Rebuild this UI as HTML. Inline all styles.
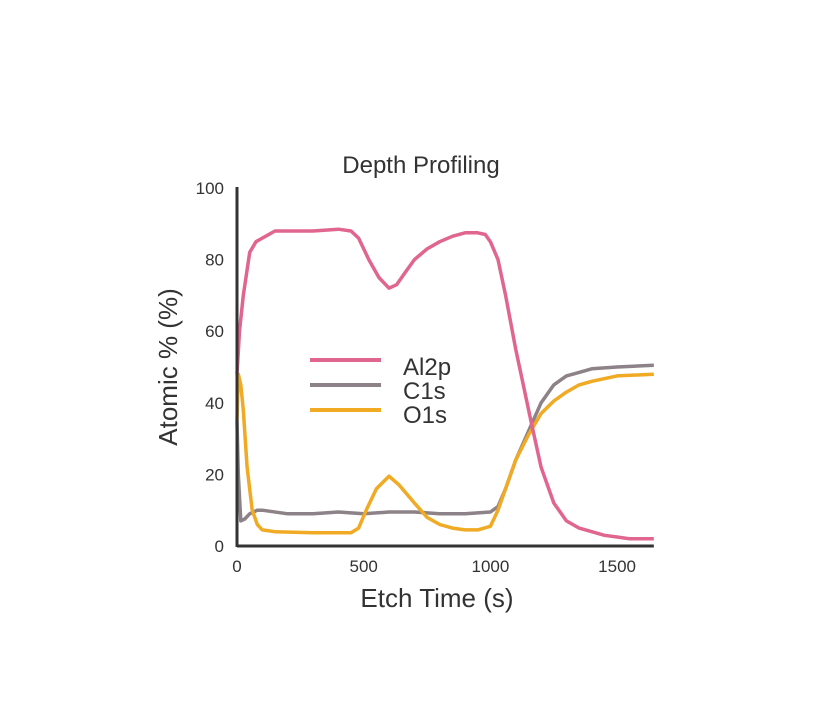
<!DOCTYPE html>
<html><head><meta charset="utf-8"><style>
body{margin:0;background:#fff;}
text{font-family:"Liberation Sans",sans-serif;fill:#333;}
</style></head><body>
<svg width="814" height="713">
<text x="421" y="173" font-size="24" text-anchor="middle">Depth Profiling</text>
<g id="series"></g>
<g id="axes"></g>
<text x="437" y="607" font-size="26" text-anchor="middle">Etch Time (s)</text>
<text transform="translate(177,367) rotate(-90)" font-size="26" text-anchor="middle">Atomic % (%)</text>
<g>
<line x1="310" y1="360" x2="381" y2="360" stroke="#e0658f" stroke-width="4"/>
<line x1="310" y1="385" x2="381" y2="385" stroke="#8c8287" stroke-width="4"/>
<line x1="310" y1="410" x2="381" y2="410" stroke="#f0aa23" stroke-width="4"/>
<text x="403" y="375" font-size="24">Al2p</text>
<text x="403" y="399" font-size="24">C1s</text>
<text x="403" y="423" font-size="24">O1s</text>
</g>
</svg>
<script>
const timeAl=[0,10,25,50,75,100,150,200,300,400,450,480,520,560,600,630,660,700,750,800,850,900,950,980,1000,1030,1060,1100,1130,1160,1200,1250,1300,1350,1400,1450,1500,1550,1600,1645];
const al2p=[48,60,70,82,85,86,88,88,88,88.5,88,86,80,75,72,73,76,80,83,85,86.5,87.5,87.5,87,85,80,70,55,45,35,22,12,7,5,4,3,2.5,2,2,2];
const timeC=[0,5,15,30,50,80,100,200,300,400,500,600,700,800,900,1000,1030,1060,1100,1150,1200,1250,1300,1350,1400,1500,1645];
const c1s=[35,20,7,7.5,9,10,10,9,9,9.5,9,9.5,9.5,9,9,9.5,11,16,24,32,40,45,47.5,48.5,49.5,50,50.5];
const timeO=[0,5,15,25,40,60,80,100,150,300,450,480,510,550,600,640,700,750,800,850,900,950,1000,1030,1060,1100,1150,1200,1250,1300,1350,1400,1500,1645];
const o1s=[35,48,45,38,22,10,6,4.5,4,3.7,3.7,5,10,16,19.5,17,12,8,6,5,4.5,4.5,5.5,10,16,24,31,37,40.5,43,45,46,47.5,48];
const xTicks=[0,500,1000,1500];
const yTicks=[0,20,40,60,80,100];
const X0=237,XS=126.7/500,Y0=546,YS=3.58;
const xs=v=>X0+v*XS, ys=v=>Y0-v*YS;
const NS="http://www.w3.org/2000/svg";
const sg=document.getElementById('series'), ag=document.getElementById('axes');
function path(t,v,col,name){
  const p=document.createElementNS(NS,'path');
  p.setAttribute('d',t.map((x,i)=>(i?'L':'M')+xs(x).toFixed(1)+','+ys(v[i]).toFixed(1)).join(''));
  p.setAttribute('fill','none');p.setAttribute('stroke',col);p.setAttribute('stroke-width','3.5');p.setAttribute('stroke-linejoin','round');
  
  
  sg.appendChild(p);
}
path(timeC,c1s,'#8c8287','series-c1s');
path(timeO,o1s,'#f0aa23','series-o1s');
path(timeAl,al2p,'#e0658f','series-al2p');
function ln(x1,y1,x2,y2,w,name){
  const l=document.createElementNS(NS,'line');
  l.setAttribute('x1',x1);l.setAttribute('y1',y1);l.setAttribute('x2',x2);l.setAttribute('y2',y2);
  l.setAttribute('stroke','#333');l.setAttribute('stroke-width',w);
  
  
  ag.appendChild(l);
}
ln(X0,ys(100)-1,X0,Y0+1,3,'y-axis-line');
ln(X0,Y0,xs(1645),Y0,3,'x-axis-line');
xTicks.forEach(v=>{
  const t=document.createElementNS(NS,'text');
  t.setAttribute('x',xs(v));t.setAttribute('y',572);t.setAttribute('font-size','17');t.setAttribute('text-anchor','middle');
  t.textContent=v;
  
  
  ag.appendChild(t);
});
yTicks.forEach(v=>{
  const t=document.createElementNS(NS,'text');
  t.setAttribute('x',224);t.setAttribute('y',ys(v)+6);t.setAttribute('font-size','17');t.setAttribute('text-anchor','end');
  t.textContent=v;
  
  
  ag.appendChild(t);
});
</script>
</body></html>
